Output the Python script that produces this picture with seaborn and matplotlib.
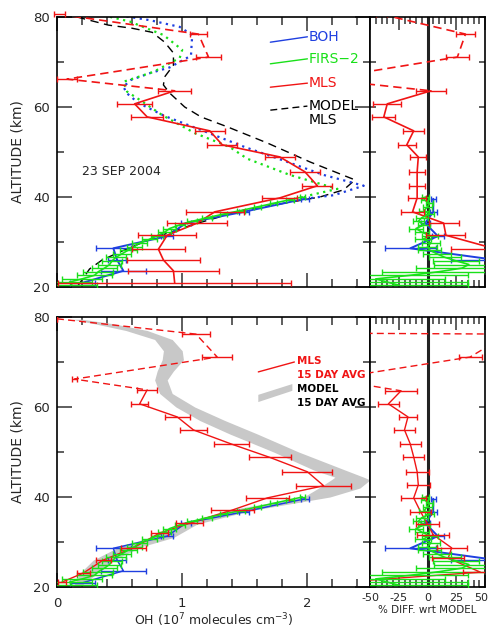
import numpy as np
import pandas as pd
import matplotlib
matplotlib.use("Agg")
import matplotlib.pyplot as plt
import seaborn as sns
from matplotlib.ticker import MultipleLocator, FixedLocator
from matplotlib.transforms import ScaledTranslation

sns.set_theme(style="ticks")
plt.rcParams["font.family"] = ["DejaVu Sans"]
plt.rcParams["axes.unicode_minus"] = False

RED = "#f01414"
BLUE = "#1f3fe0"
GREEN = "#19e019"
BAND = "#c8c8c8"

# ---------------- MLS single day, 23 Sep 2004 ----------------
mls_alt = [80.6, 76.2, 71.1, 66.2, 63.6, 60.7, 57.8, 54.7, 51.6, 48.9,
           45.6, 42.5, 39.8, 36.7, 34.2, 31.5, 28.4, 26.0, 23.6, 20.9]
mls_oh = [0.02, 1.13, 1.21, 0.08, 0.94, 0.62, 0.72, 1.22, 1.32, 1.78,
          1.98, 2.08, 1.78, 1.26, 1.12, 0.88, 0.81, 0.85, 0.93, 0.94]
mls_err = [0.04, 0.07, 0.10, 0.08, 0.13, 0.14, 0.13, 0.12, 0.12, 0.12,
           0.12, 0.12, 0.14, 0.23, 0.24, 0.23, 0.21, 0.29, 0.36, 0.93]
mls_pct = [-40, 33, 26, -92, 3, -35, -38, -12, -18, -8,
           -9, -9, -9, -13, 14, 16, 60, 130, 220, 300]
mls_pct_err = [5, 8, 10, 8, 13, 12, 10, 9, 8, 7,
               7, 7, 8, 10, 13, 17, 40, 40, 60, 100]

# ---------------- BOH balloon ----------------
boh_alt = [20.9, 23.6, 26.0, 28.6, 31.3, 34.2, 36.7, 39.6]
boh_oh = [0.20, 0.53, 0.48, 0.45, 0.88, 1.03, 1.49, 1.98]
boh_err = [0.10, 0.18, 0.07, 0.14, 0.05, 0.04, 0.04, 0.03]
boh_pct = [150, 110, 60, -15, 9, -2, 5, 5]
boh_pct_err = [60, 40, 40, 22, 5, 4, 3, 2]

# ---------------- FIRS-2 balloon ----------------
firs_alt = [20.4, 21.1, 21.8, 22.6, 23.4, 24.2, 25.0, 25.8, 26.6, 27.4,
            28.2, 29.0, 29.8, 30.6, 31.4, 32.2, 33.0, 33.8, 34.6, 35.4,
            36.2, 37.0, 37.8, 38.6, 39.4, 40.0]
firs_oh = [0.12, 0.10, 0.20, 0.30, 0.33, 0.38, 0.42, 0.44, 0.47, 0.52,
           0.57, 0.62, 0.66, 0.74, 0.80, 0.86, 0.90, 0.98, 1.08, 1.20,
           1.33, 1.47, 1.60, 1.73, 1.86, 1.96]
firs_err = [0.20, 0.18, 0.16, 0.14, 0.12, 0.10, 0.09, 0.08, 0.08, 0.07,
            0.07, 0.06, 0.06, 0.06, 0.05, 0.05, 0.05, 0.04, 0.04, 0.04,
            0.03, 0.03, 0.03, 0.03, 0.03, 0.02]
firs_pct = [-25, -35, -45, -15, 10, 30, 36, 25, 15, 8,
            2, 0, 3, -4, 2, -5, -10, -3, -8, -5,
            2, -3, 0, 2, -3, -2]
firs_pct_err = [60, 70, 60, 50, 50, 40, 30, 20, 14, 12,
                10, 8, 8, 7, 7, 6, 6, 5, 5, 5,
                4, 4, 4, 3, 3, 3]

# ---------------- Model profiles (single day) ----------------
mod_mls_alt = [80.0, 78.2, 77.5, 76.6, 74.4, 72.0, 69.3, 66.7, 64.9, 63.1,
               60.0, 57.8, 55.6, 52.0, 47.8, 43.8, 41.6, 40.0, 37.0, 34.0,
               31.0, 28.0, 26.0, 24.0, 20.0]
mod_mls_oh = [0.16, 0.41, 0.60, 0.76, 0.86, 0.93, 0.93, 0.86, 0.85, 0.90,
              1.02, 1.15, 1.36, 1.68, 2.02, 2.38, 2.29, 2.10, 1.48, 1.10,
              0.78, 0.52, 0.36, 0.26, 0.16]

mod_boh_alt = [80.6, 79.3, 77.8, 76.0, 71.4, 68.8, 67.5, 66.0, 64.5, 63.0,
               60.9, 58.0, 55.0, 51.1, 47.8, 44.9, 42.5, 40.4, 39.6]
mod_boh_oh = [0.45, 0.74, 0.98, 1.08, 1.07, 0.90, 0.74, 0.59, 0.53, 0.56,
              0.65, 0.86, 1.14, 1.50, 1.84, 2.13, 2.45, 2.21, 1.98]

mod_firs_alt = [80.7, 79.0, 76.0, 72.7, 70.9, 67.8, 65.6, 63.4, 61.6, 58.2,
                54.2, 51.1, 48.5, 44.9, 41.8, 40.4, 39.6]
mod_firs_oh = [0.32, 0.58, 0.85, 1.00, 0.98, 0.77, 0.53, 0.56, 0.66, 0.84,
               1.10, 1.38, 1.52, 1.86, 2.24, 2.02, 1.94]

# ---------------- MLS 15-day average ----------------
avg_alt = [79.6, 76.2, 71.1, 66.2, 63.8, 60.7, 57.8, 54.9, 51.8, 48.8,
           45.6, 42.5, 39.8, 37.1, 34.2, 32.0, 28.7, 26.0, 23.1, 21.1]
avg_oh = [0.00, 1.11, 1.28, 0.14, 0.72, 0.66, 0.96, 1.09, 1.39, 1.70,
          2.00, 2.13, 1.68, 1.40, 1.06, 0.82, 0.61, 0.37, 0.21, 0.04]
avg_err = [0.00, 0.11, 0.12, 0.02, 0.08, 0.07, 0.10, 0.11, 0.14, 0.17,
           0.20, 0.22, 0.17, 0.17, 0.11, 0.07, 0.10, 0.06, 0.05, 0.03]
avg_pct_alt = [76.5, 76.2, 71.1, 66.2, 63.6, 60.7, 57.8, 54.9, 51.8, 48.9,
               45.6, 42.7, 39.8, 36.7, 34.0, 31.6, 28.7, 26.4, 23.3, 21.1]
avg_pct = [-160, 70, 37, -85, -23, -34, -17, -20, -15, -12,
           -9, -8, -12, -6, 0, 5, 21, 18, 46, -73]
avg_pct_err = [0, 10, 10, 5, 14, 9, 8, 9, 9, 9,
               10, 10, 11, 9, 10, 14, 13, 14, 15, 10]

# ---------------- Model 15-day average (range) ----------------
band_alt = [20.0, 23.0, 26.0, 29.0, 31.0, 34.0, 37.0, 40.0, 42.0, 43.8,
            44.4, 46.0, 50.0, 54.0, 57.0, 60.0, 63.0, 66.0, 68.0, 70.5,
            72.5, 75.0, 77.0, 78.5, 79.5]
band_lo = [0.13, 0.18, 0.29, 0.50, 0.74, 0.98, 1.35, 1.97, 2.09, 2.19,
           2.22, 2.05, 1.73, 1.38, 1.14, 0.95, 0.82, 0.78, 0.80, 0.84,
           0.85, 0.78, 0.55, 0.30, 0.12]
band_hi = [0.18, 0.32, 0.45, 0.68, 0.93, 1.12, 1.55, 2.18, 2.42, 2.50,
           2.45, 2.30, 1.93, 1.60, 1.34, 1.10, 0.92, 0.88, 0.93, 1.01,
           1.00, 0.92, 0.72, 0.45, 0.20]

W, H = 490, 632
fig = plt.figure(figsize=(W / 100, H / 100), dpi=100)


def px_axes(x0, y0, x1, y1):
    return fig.add_axes([x0 / W, 1 - y1 / H, (x1 - x0) / W, (y1 - y0) / H])


ax_top = px_axes(57, 17, 370, 287)
ax_top_d = px_axes(370, 17, 485, 287)
ax_bot = px_axes(57, 317, 370, 587)
ax_bot_d = px_axes(370, 317, 485, 587)

TICK_COLOR = "#333333"


def profile(ax, x, y, color, lw=1.2, ls="-", zorder=3):
    df = pd.DataFrame({"value": x, "altitude": y})
    sns.lineplot(data=df, x="value", y="altitude", sort=False, estimator=None,
                 color=color, linewidth=lw, linestyle=ls, ax=ax, zorder=zorder)


def bars(ax, x, y, err, color, lw=1.0, zorder=3, clip=True):
    eb = ax.errorbar(x, y, xerr=err, fmt="none", ecolor=color, elinewidth=lw,
                     capsize=2.5, capthick=lw, zorder=zorder)
    if not clip:
        for art in eb.lines[1] + eb.lines[2]:
            art.set_clip_on(False)


def split_profile(ax, x, y, k, color, lw=1.2):
    # dashed above the usable range, solid below it
    profile(ax, x[:k + 1], y[:k + 1], color, lw=lw, ls=(0, (5, 3)))
    profile(ax, x[k:], y[k:], color, lw=lw)


def style_main(ax, labels):
    ax.set_xlim(0, 2.5)
    ax.set_ylim(20, 80)
    ax.xaxis.set_major_locator(FixedLocator([0, 1, 2]))
    ax.xaxis.set_minor_locator(MultipleLocator(0.2))
    ax.yaxis.set_major_locator(MultipleLocator(20))
    ax.yaxis.set_minor_locator(MultipleLocator(10))
    ax.tick_params(which="both", direction="in", top=True, right=True,
                   color=TICK_COLOR, width=1.1, labelsize=9.5, pad=5)
    ax.tick_params(axis="x", which="major", length=10, pad=7)
    ax.tick_params(axis="x", which="minor", length=5.5)
    ax.tick_params(axis="y", which="major", length=11)
    ax.tick_params(axis="y", which="minor", length=5)
    if not labels:
        ax.tick_params(axis="x", labelbottom=False)
    ax.set_ylabel("ALTITUDE (km)", fontsize=10, labelpad=6)
    ax.set_xlabel("")
    for s in ax.spines.values():
        s.set_color("black")
        s.set_linewidth(1.2)


def style_diff(ax, labels):
    ax.set_xlim(-50, 50)
    ax.set_ylim(20, 80)
    ax.xaxis.set_major_locator(FixedLocator([-50, -25, 0, 25, 50]))
    ax.xaxis.set_minor_locator(MultipleLocator(5))
    ax.yaxis.set_major_locator(MultipleLocator(10))
    ax.tick_params(which="both", direction="in", top=True, right=True, left=True,
                   color=TICK_COLOR, width=1.1, labelsize=8, pad=4)
    ax.tick_params(axis="y", labelleft=False, length=4)
    ax.tick_params(axis="x", which="major", length=9)
    ax.tick_params(axis="x", which="minor", length=5)
    if not labels:
        ax.tick_params(axis="x", labelbottom=False)
    ax.set_ylabel("")
    ax.set_xlabel("")
    ax.axvline(0, color="#222222", lw=2.2, zorder=2)
    for s in ax.spines.values():
        s.set_color("black")
        s.set_linewidth(1.2)


# ======================= top: single day =======================
ax = ax_top
profile(ax, mod_mls_oh, mod_mls_alt, "black", lw=1.0, ls=(0, (6, 4)), zorder=2)
profile(ax, mod_boh_oh, mod_boh_alt, BLUE, lw=1.6, ls=(0, (1, 2)), zorder=2)
profile(ax, mod_firs_oh, mod_firs_alt, GREEN, lw=1.6, ls=(0, (1, 2)), zorder=2)
bars(ax, boh_oh, boh_alt, boh_err, BLUE, zorder=3)
profile(ax, boh_oh, boh_alt, BLUE, lw=1.4, zorder=3)
bars(ax, firs_oh, firs_alt, firs_err, GREEN, zorder=4)
profile(ax, firs_oh, firs_alt, GREEN, lw=1.2, zorder=4)
bars(ax, mls_oh, mls_alt, mls_err, RED, zorder=5, clip=False)
split_profile(ax, mls_oh, mls_alt, 4, RED)
style_main(ax, labels=False)

ax.text(0.2, 45.6, "23 SEP 2004", fontsize=9, va="center", ha="left")
leg_x = [1.704, 2.0]
for (y0, y1), name, col, ls in [((74.4, 75.6), "BOH", BLUE, "-"),
                               ((69.6, 70.7), "FIRS\u22122", GREEN, "-"),
                               ((64.4, 65.3), "MLS", RED, "-"),
                               ((59.3, 60.2), "MODEL", "black", (0, (5, 3)))]:
    ax.plot(leg_x, [y0, y1], color=col, lw=1.0, ls=ls)
    ax.text(2.01, y1, name, color=col, fontsize=10, va="center", ha="left")
ax.text(2.01, 57.0, "MLS", color="black", fontsize=10, va="center", ha="left")

ax = ax_top_d
bars(ax, boh_pct, boh_alt, boh_pct_err, BLUE, zorder=3)
profile(ax, boh_pct, boh_alt, BLUE, lw=1.4, zorder=3)
bars(ax, firs_pct, firs_alt, firs_pct_err, GREEN, zorder=4)
profile(ax, firs_pct, firs_alt, GREEN, lw=1.2, zorder=4)
bars(ax, mls_pct, mls_alt, mls_pct_err, RED, zorder=5)
split_profile(ax, mls_pct, mls_alt, 4, RED)
style_diff(ax, labels=False)

# ======================= bottom: 15-day average =======================
ax = ax_bot
ax.fill_betweenx(band_alt, band_lo, band_hi, color=BAND, lw=0, zorder=1)
bars(ax, boh_oh, boh_alt, boh_err, BLUE, zorder=3)
profile(ax, boh_oh, boh_alt, BLUE, lw=1.1, zorder=3)
bars(ax, firs_oh, firs_alt, firs_err, GREEN, zorder=4)
profile(ax, firs_oh, firs_alt, GREEN, lw=1.1, zorder=4)
bars(ax, avg_oh, avg_alt, avg_err, RED, zorder=5)
split_profile(ax, avg_oh, avg_alt, 4, RED, lw=1.0)
style_main(ax, labels=True)
ax.set_xlabel("OH (10$^7$ molecules cm$^{-3}$)", fontsize=9, labelpad=1)

ax.plot([1.608, 1.896], [67.8, 70.0], color=RED, lw=1.0)
ax.text(1.92, 70.2, "MLS", color=RED, fontsize=7.5, fontweight="bold", va="center")
ax.text(1.92, 67.1, "15 DAY AVG", color=RED, fontsize=7.5, fontweight="bold", va="center")
ax.fill([1.608, 1.608, 1.88, 1.88], [61.1, 62.7, 65.1, 63.6], color=BAND, lw=0)
ax.text(1.92, 64.0, "MODEL", color="black", fontsize=7.5, fontweight="bold", va="center")
ax.text(1.92, 60.9, "15 DAY AVG", color="black", fontsize=7.5, fontweight="bold", va="center")

ax = ax_bot_d
bars(ax, boh_pct, boh_alt, boh_pct_err, BLUE, zorder=3)
profile(ax, boh_pct, boh_alt, BLUE, lw=1.4, zorder=3)
bars(ax, firs_pct, firs_alt, firs_pct_err, GREEN, zorder=4)
profile(ax, firs_pct, firs_alt, GREEN, lw=1.2, zorder=4)
bars(ax, avg_pct, avg_pct_alt, avg_pct_err, RED, zorder=5)
split_profile(ax, avg_pct, avg_pct_alt, 4, RED, lw=1.0)
style_diff(ax, labels=True)
ax.set_xlabel("% DIFF. wrt MODEL", fontsize=7.5, labelpad=2)

# keep the outermost percentage label inside the figure
fig.canvas.draw()
last = ax.get_xticklabels()[-1]
last.set_transform(last.get_transform() + ScaledTranslation(-4 / 100, 0, fig.dpi_scale_trans))

fig.savefig("out.png", dpi=100)
